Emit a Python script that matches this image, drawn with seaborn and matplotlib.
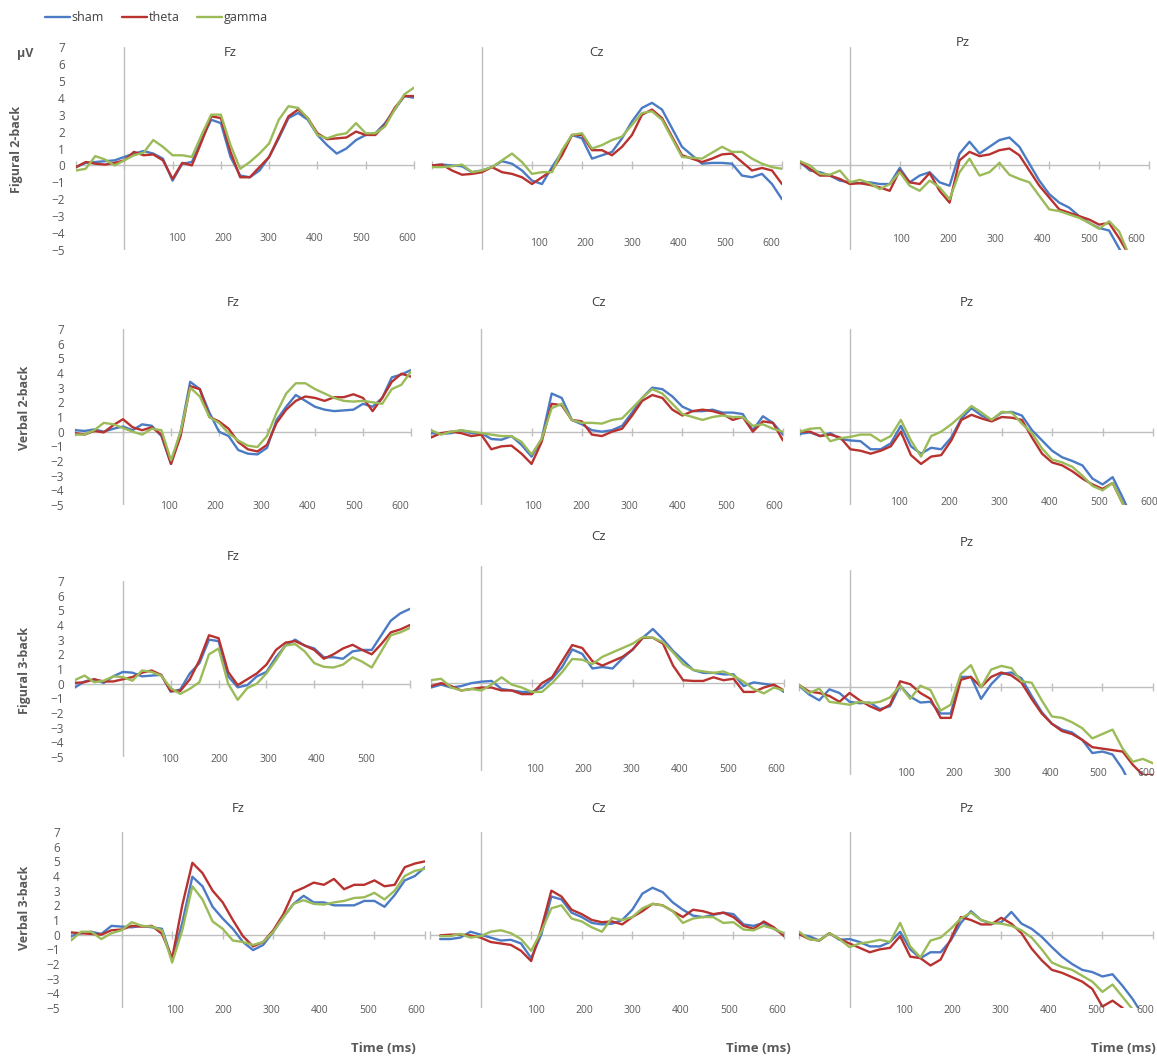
import numpy as np
import pandas as pd
import matplotlib
matplotlib.use("Agg")
import matplotlib.pyplot as plt
import seaborn as sns

nan = np.nan

# time axis, ms (one sample every 20 ms)
time_ms = np.arange(-100, 601, 20)
conditions = ["sham", "theta", "gamma"]
tasks = ["Figural 2-back", "Verbal 2-back", "Figural 3-back", "Verbal 3-back"]
sites = ["Fz", "Cz", "Pz"]
tick_ms = [-100, 0, 100, 200, 300, 400, 500, 600]
tick_labels = ["100", "200", "300", "400", "500", "600"]

# ---- Figural 2-back ----
f2_fz_sham = [-0.1, 0.15, 0.2, 0.25, 0.3, 0.5, 0.7, 0.85, 0.7, 0.4, -0.9, 0.1, 0.2, 1.5, 2.7, 2.5, 0.5, -0.6, -0.7, -0.3, 0.5, 1.6, 2.8, 3.1, 2.7, 1.8, 1.2, 0.7, 1.0, 1.5, 1.8, 1.9, 2.5, 3.3, 4.1, 4.0]
f2_fz_theta = [-0.1, 0.2, 0.1, 0.05, 0.15, 0.3, 0.8, 0.6, 0.65, 0.3, -0.8, 0.15, 0.0, 1.4, 2.9, 2.8, 0.8, -0.7, -0.7, -0.1, 0.5, 1.7, 2.9, 3.3, 2.8, 1.9, 1.55, 1.6, 1.65, 2.0, 1.8, 1.8, 2.4, 3.4, 4.1, 4.1]
f2_fz_gamma = [-0.3, -0.2, 0.55, 0.35, 0.0, 0.3, 0.6, 0.75, 1.5, 1.1, 0.6, 0.6, 0.5, 1.8, 3.0, 3.0, 1.2, -0.2, 0.2, 0.7, 1.3, 2.7, 3.5, 3.4, 2.8, 1.8, 1.6, 1.8, 1.9, 2.5, 1.9, 1.9, 2.3, 3.3, 4.2, 4.6]

f2_cz_sham = [0.0, 0.05, 0.0, -0.05, -0.4, -0.3, -0.1, 0.25, 0.1, -0.3, -0.9, -1.1, -0.1, 0.8, 1.8, 1.6, 0.4, 0.6, 0.8, 1.6, 2.6, 3.4, 3.7, 3.3, 2.2, 1.1, 0.6, 0.1, 0.15, 0.15, 0.1, -0.6, -0.7, -0.5, -1.1, -2.0]
f2_cz_theta = [0.0, 0.05, -0.3, -0.55, -0.5, -0.4, -0.1, -0.4, -0.5, -0.7, -1.1, -0.7, -0.3, 0.6, 1.8, 1.8, 0.9, 0.9, 0.6, 1.1, 1.8, 3.0, 3.3, 2.8, 1.7, 0.6, 0.4, 0.2, 0.4, 0.65, 0.7, 0.2, -0.3, -0.15, -0.3, -1.1]
f2_cz_gamma = [-0.1, -0.1, -0.05, 0.05, -0.4, -0.3, -0.1, 0.3, 0.7, 0.2, -0.5, -0.4, -0.4, 0.9, 1.8, 1.9, 1.0, 1.2, 1.5, 1.7, 2.4, 3.1, 3.2, 2.7, 1.6, 0.5, 0.45, 0.4, 0.75, 1.1, 0.8, 0.8, 0.4, 0.1, -0.1, -0.2]

f2_pz_sham = [0.2, -0.3, -0.4, -0.6, -0.9, -1.0, -1.05, -1.0, -1.1, -1.1, -0.15, -1.0, -0.6, -0.4, -1.0, -1.2, 0.7, 1.4, 0.7, 1.1, 1.5, 1.65, 1.1, 0.1, -0.9, -1.7, -2.2, -2.5, -3.0, -3.4, -3.7, -3.85, -4.9, -6.0, nan, nan]
f2_pz_theta = [0.2, -0.2, -0.6, -0.6, -0.8, -1.1, -1.05, -1.15, -1.3, -1.5, -0.3, -1.0, -1.1, -0.45, -1.5, -2.2, 0.3, 0.8, 0.55, 0.65, 0.9, 1.0, 0.6, -0.3, -1.2, -1.9, -2.6, -2.8, -3.0, -3.2, -3.5, -3.4, -4.3, -5.3, nan, nan]
f2_pz_gamma = [0.25, 0.0, -0.5, -0.55, -0.3, -1.0, -0.85, -1.05, -1.4, -1.1, -0.4, -1.2, -1.5, -0.9, -1.3, -2.0, -0.4, 0.4, -0.6, -0.4, 0.15, -0.55, -0.8, -1.0, -1.8, -2.6, -2.7, -2.9, -3.1, -3.4, -3.75, -3.3, -3.9, -5.3, nan, nan]

# ---- Verbal 2-back ----
v2_fz_sham = [0.1, 0.05, 0.15, 0.0, 0.2, 0.35, 0.1, 0.5, 0.4, -0.3, -2.2, 0.0, 3.4, 2.9, 1.3, 0.0, -0.3, -1.25, -1.5, -1.55, -1.1, 0.8, 1.7, 2.5, 2.1, 1.7, 1.5, 1.4, 1.45, 1.5, 1.9, 1.7, 2.3, 3.7, 3.9, 4.2]
v2_fz_theta = [-0.1, -0.2, 0.05, -0.05, 0.45, 0.85, 0.3, 0.1, 0.3, -0.2, -2.2, -0.3, 3.1, 2.9, 1.0, 0.7, 0.2, -0.7, -1.2, -1.35, -0.9, 0.6, 1.5, 2.1, 2.4, 2.3, 2.1, 2.35, 2.35, 2.55, 2.3, 1.4, 2.3, 3.4, 3.95, 3.75]
v2_fz_gamma = [-0.2, -0.2, 0.1, 0.6, 0.5, 0.25, 0.0, -0.2, 0.2, 0.1, -1.95, 0.0, 3.0, 2.4, 1.0, 0.6, -0.1, -0.6, -0.95, -1.05, -0.3, 1.3, 2.6, 3.3, 3.3, 2.9, 2.6, 2.3, 2.1, 2.05, 2.1, 2.0, 1.9, 2.9, 3.2, 4.1]

v2_cz_sham = [-0.1, -0.15, -0.1, 0.1, -0.1, -0.1, -0.5, -0.55, -0.3, -0.9, -1.7, -0.5, 2.6, 2.3, 0.8, 0.5, 0.1, 0.0, 0.1, 0.4, 1.3, 2.3, 3.0, 2.9, 2.4, 1.7, 1.4, 1.4, 1.5, 1.3, 1.3, 1.2, 0.1, 1.05, 0.6, -0.2]
v2_cz_theta = [-0.4, -0.1, 0.0, -0.1, -0.3, -0.2, -1.2, -1.0, -0.95, -1.5, -2.2, -0.7, 1.9, 1.8, 0.8, 0.7, -0.2, -0.3, 0.0, 0.2, 1.1, 2.1, 2.5, 2.3, 1.5, 1.1, 1.4, 1.5, 1.4, 1.2, 0.8, 1.0, 0.0, 0.7, 0.6, -0.6]
v2_cz_gamma = [0.1, -0.2, 0.0, 0.1, 0.0, -0.1, -0.2, -0.3, -0.3, -0.7, -1.55, -0.5, 1.6, 1.9, 0.8, 0.6, 0.6, 0.55, 0.8, 0.9, 1.6, 2.3, 2.9, 2.6, 1.9, 1.2, 1.0, 0.8, 1.0, 1.1, 1.0, 1.0, 0.4, 0.5, 0.2, 0.0]

v2_pz_sham = [-0.15, -0.05, -0.3, -0.1, -0.5, -0.6, -0.65, -1.2, -1.2, -0.8, 0.4, -1.0, -1.5, -1.1, -1.2, -0.4, 0.9, 1.6, 1.1, 0.8, 1.3, 1.35, 1.1, 0.1, -0.6, -1.3, -1.75, -2.0, -2.3, -3.2, -3.6, -3.1, -4.5, -6.0, nan, nan]
v2_pz_theta = [0.0, 0.0, -0.3, -0.2, -0.4, -1.2, -1.3, -1.5, -1.3, -1.0, 0.0, -1.6, -2.2, -1.7, -1.6, -0.6, 0.8, 1.15, 0.9, 0.7, 1.0, 0.95, 0.8, -0.4, -1.5, -2.1, -2.3, -2.7, -3.2, -3.6, -3.9, -3.5, -4.9, -6.0, nan, nan]
v2_pz_gamma = [0.0, 0.2, 0.25, -0.65, -0.45, -0.35, -0.2, -0.2, -0.65, -0.3, 0.8, -0.6, -1.7, -0.3, 0.0, 0.5, 1.1, 1.75, 1.3, 0.8, 1.35, 1.3, 0.55, -0.1, -1.15, -1.9, -2.1, -2.4, -3.0, -3.7, -4.0, -3.5, -4.9, -6.0, nan, nan]

# ---- Figural 3-back ----
f3_fz_sham = [-0.25, 0.15, 0.3, 0.05, 0.5, 0.8, 0.75, 0.5, 0.55, 0.6, -0.55, -0.4, 0.7, 1.4, 3.0, 2.9, 0.5, -0.25, -0.1, 0.5, 0.8, 1.8, 2.6, 3.0, 2.6, 2.4, 1.8, 1.8, 1.7, 2.2, 2.3, 2.3, 3.3, 4.3, 4.8, 5.1]
f3_fz_theta = [0.05, 0.1, 0.3, 0.15, 0.15, 0.3, 0.45, 0.75, 0.9, 0.6, -0.5, -0.5, 0.3, 1.6, 3.3, 3.1, 0.8, -0.1, 0.3, 0.7, 1.3, 2.3, 2.8, 2.9, 2.6, 2.3, 1.7, 2.0, 2.4, 2.65, 2.3, 2.0, 2.7, 3.5, 3.7, 4.0]
f3_fz_gamma = [0.25, 0.55, 0.1, 0.2, 0.5, 0.45, 0.2, 0.9, 0.8, 0.55, -0.3, -0.7, -0.35, 0.1, 2.0, 2.4, 0.0, -1.1, -0.3, 0.0, 0.7, 1.6, 2.6, 2.7, 2.2, 1.4, 1.15, 1.1, 1.3, 1.8, 1.5, 1.1, 2.2, 3.3, 3.5, 3.8]

f3_cz_sham = [-0.3, -0.1, -0.3, -0.2, 0.0, 0.1, 0.15, -0.4, -0.5, -0.6, -0.6, -0.3, 0.3, 1.1, 2.3, 2.0, 1.0, 1.1, 1.0, 1.7, 2.3, 3.1, 3.7, 3.0, 2.2, 1.55, 0.9, 0.7, 0.7, 0.6, 0.6, -0.2, 0.05, -0.05, -0.15, -0.6]
f3_cz_theta = [-0.2, 0.0, -0.2, -0.5, -0.4, -0.3, -0.3, -0.5, -0.5, -0.75, -0.75, 0.0, 0.4, 1.5, 2.6, 2.4, 1.5, 1.2, 1.5, 1.8, 2.3, 3.1, 3.1, 2.7, 1.2, 0.2, 0.15, 0.15, 0.4, 0.2, 0.3, -0.6, -0.6, -0.3, -0.1, -0.5]
f3_cz_gamma = [0.2, 0.3, -0.3, -0.5, -0.4, -0.5, -0.1, 0.4, -0.1, -0.3, -0.6, -0.6, 0.0, 0.75, 1.65, 1.6, 1.3, 1.8, 2.1, 2.4, 2.7, 3.15, 3.1, 2.8, 2.1, 1.3, 0.9, 0.8, 0.7, 0.8, 0.5, 0.1, -0.4, -0.7, -0.3, -0.5]

f3_pz_sham = [0.1, -0.5, -0.9, -0.15, -0.4, -1.0, -1.1, -1.05, -1.5, -1.3, 0.1, -0.65, -1.05, -1.0, -1.8, -1.8, 0.7, 0.7, -0.8, 0.2, 0.9, 1.0, 0.6, -0.6, -1.7, -2.5, -2.9, -3.1, -3.6, -4.5, -4.4, -4.6, -5.6, -7.0, nan, nan]
f3_pz_theta = [0.15, -0.3, -0.4, -0.6, -1.0, -0.4, -0.9, -1.3, -1.6, -1.2, 0.4, 0.2, -0.4, -0.8, -2.1, -2.1, 0.5, 0.7, 0.0, 0.7, 1.0, 0.8, 0.3, -0.8, -1.8, -2.5, -3.0, -3.2, -3.6, -4.1, -4.2, -4.3, -4.4, -5.3, -6.0, -6.0]
f3_pz_gamma = [0.15, -0.4, -0.1, -1.0, -1.1, -1.2, -1.0, -1.1, -1.0, -0.7, 0.1, -0.8, 0.1, -0.2, -1.6, -1.2, 0.9, 1.5, 0.0, 1.2, 1.45, 1.3, 0.4, 0.3, -0.9, -2.0, -2.1, -2.4, -2.8, -3.5, -3.2, -2.9, -4.2, -5.1, -4.9, -5.2]

# ---- Verbal 3-back ----
v3_fz_sham = [-0.1, 0.1, 0.2, 0.05, 0.6, 0.55, 0.5, 0.6, 0.5, 0.4, -1.7, 0.8, 3.95, 3.3, 1.9, 1.1, 0.4, -0.5, -1.05, -0.7, 0.2, 1.2, 2.1, 2.65, 2.2, 2.2, 2.0, 2.0, 2.0, 2.3, 2.3, 1.9, 2.7, 3.7, 4.0, 4.6]
v3_fz_theta = [0.15, 0.1, 0.05, 0.0, 0.3, 0.35, 0.6, 0.55, 0.6, 0.05, -1.6, 2.0, 4.9, 4.2, 3.0, 2.2, 1.0, -0.1, -0.8, -0.5, 0.3, 1.4, 2.9, 3.2, 3.55, 3.4, 3.8, 3.1, 3.4, 3.4, 3.7, 3.3, 3.4, 4.6, 4.85, 5.0]
v3_fz_gamma = [-0.4, 0.2, 0.2, -0.3, 0.1, 0.3, 0.85, 0.6, 0.55, 0.3, -1.9, 0.3, 3.3, 2.4, 0.9, 0.4, -0.4, -0.5, -0.7, -0.5, 0.2, 1.2, 2.1, 2.35, 2.1, 2.05, 2.2, 2.3, 2.5, 2.55, 2.85, 2.4, 3.0, 4.0, 4.35, 4.5]

v3_cz_sham = [nan, -0.3, -0.3, -0.2, 0.2, 0.0, -0.2, -0.4, -0.35, -0.6, -1.6, 0.0, 2.6, 2.4, 1.5, 1.2, 0.8, 0.7, 0.75, 1.0, 1.7, 2.8, 3.2, 2.9, 2.2, 1.7, 1.3, 1.2, 1.35, 1.5, 1.4, 0.7, 0.6, 0.8, 0.4, 0.0]
v3_cz_theta = [nan, -0.05, 0.0, 0.0, -0.05, -0.2, -0.5, -0.6, -0.7, -1.1, -1.8, 0.4, 3.0, 2.6, 1.7, 1.4, 1.0, 0.85, 0.9, 0.7, 1.2, 1.6, 2.1, 2.0, 1.6, 1.2, 1.7, 1.6, 1.4, 1.5, 1.2, 0.6, 0.4, 0.9, 0.5, -0.1]
v3_cz_gamma = [nan, -0.1, -0.1, 0.05, -0.2, -0.1, 0.2, 0.3, 0.1, -0.3, -1.1, 0.2, 1.8, 2.0, 1.1, 0.9, 0.5, 0.2, 1.15, 1.0, 1.2, 1.8, 2.1, 2.0, 1.6, 0.8, 1.1, 1.2, 1.2, 0.8, 0.85, 0.35, 0.3, 0.6, 0.4, 0.1]

v3_pz_sham = [0.0, -0.1, -0.4, 0.1, -0.35, -0.3, -0.5, -0.8, -0.8, -0.5, 0.2, -1.0, -1.6, -1.2, -1.2, -0.4, 0.8, 1.6, 1.0, 0.75, 0.85, 1.55, 0.75, 0.4, -0.15, -0.85, -1.5, -2.0, -2.4, -2.55, -2.85, -2.7, -3.5, -4.4, -5.5, nan]
v3_pz_theta = [0.05, -0.3, -0.4, 0.1, -0.3, -0.6, -0.9, -1.2, -1.0, -0.9, -0.1, -1.5, -1.6, -2.1, -1.7, -0.3, 1.2, 1.0, 0.7, 0.7, 1.15, 0.75, 0.1, -0.95, -1.75, -2.4, -2.6, -2.9, -3.2, -3.7, -4.9, -4.5, -5.0, nan, nan, nan]
v3_pz_gamma = [0.2, -0.3, -0.4, 0.1, -0.3, -0.85, -0.6, -0.5, -0.35, -0.5, 0.8, -0.8, -1.55, -0.4, -0.2, 0.4, 1.1, 1.5, 1.0, 0.8, 0.75, 0.6, 0.3, -0.2, -1.0, -1.9, -2.2, -2.4, -2.8, -3.2, -3.9, -3.4, -4.25, -5.1, nan, nan]

panels = [
    [(f2_fz_sham, f2_fz_theta, f2_fz_gamma), (f2_cz_sham, f2_cz_theta, f2_cz_gamma), (f2_pz_sham, f2_pz_theta, f2_pz_gamma)],
    [(v2_fz_sham, v2_fz_theta, v2_fz_gamma), (v2_cz_sham, v2_cz_theta, v2_cz_gamma), (v2_pz_sham, v2_pz_theta, v2_pz_gamma)],
    [(f3_fz_sham, f3_fz_theta, f3_fz_gamma), (f3_cz_sham, f3_cz_theta, f3_cz_gamma), (f3_pz_sham, f3_pz_theta, f3_pz_gamma)],
    [(v3_fz_sham, v3_fz_theta, v3_fz_gamma), (v3_cz_sham, v3_cz_theta, v3_cz_gamma), (v3_pz_sham, v3_pz_theta, v3_pz_gamma)],
]

# ---- layout (pixels in a 1157 x 1058 canvas) ----
W, H = 1157, 1058
# left, right, top, bottom, ymin, ymax
boxes = [
    [(76, 414, 47, 250, -5, 7), (432, 782, 47, 250, -5, 7), (800, 1149, 47, 250, -5, 7)],
    [(75, 411, 329, 505, -5, 7), (431, 783, 329, 505, -5, 7), (800, 1153, 329, 505, -5, 7)],
    [(75, 410, 581, 757, -5, 7), (431, 784, 566, 771, -6, 8), (799, 1153, 570, 775, -6, 8)],
    [(71, 425, 832, 1008, -5, 7), (430, 784, 832, 1008, -5, 7), (799, 1153, 832, 1008, -5, 7)],
]
# first / last tick-label centre (ms) and label height (uV)
label_span = [
    [(109, 585, -4.3), (114, 579, -4.6), (102, 575, -4.4)],
    [(95, 578, -5.1), (103, 583, -5.1), (96, 593, -4.8)],
    [(99, 610, -5.2), (106, 585, -5.9), (112, 587, -5.9)],
    [(106, 583, -5.2), (110, 587, -5.2), (107, 584, -5.2)],
]
title_pos = [
    [(230, 53), (597, 52), (963, 42)],
    [(233, 303), (598, 303), (967, 303)],
    [(233, 556), (598, 537), (967, 542)],
    [(238, 808), (598, 808), (967, 808)],
]
row_label_pos = [(17, 149), (25, 408), (25, 670), (25, 908)]

palette = {"sham": "#4a7bc4", "theta": "#b8322f", "gamma": "#9bbb59"}
axis_grey = "#bfbfbf"
text_grey = "#595959"

sns.set_style("white")
plt.rcParams["font.family"] = ["Open Sans", "DejaVu Sans"]


def fx(px):
    return px / W


def fy(py):
    return 1 - py / H


fig = plt.figure(figsize=(W / 100, H / 100), dpi=100)
handles, labels = None, None

for r in range(4):
    for c in range(3):
        l, rr, t, b, ymin, ymax = boxes[r][c]
        ax = fig.add_axes([fx(l), fy(b), (rr - l) / W, (b - t) / H])
        series = panels[r][c]
        df = pd.DataFrame({
            "time": np.tile(time_ms, 3),
            "uV": np.concatenate([np.asarray(s, dtype=float) for s in series]),
            "condition": np.repeat(conditions, len(time_ms)),
        })
        ax.axhline(0, color=axis_grey, lw=1.0, zorder=1)
        ax.axvline(0, color=axis_grey, lw=1.0, zorder=1)
        ax.plot(tick_ms, np.zeros(len(tick_ms)), ls="none", marker="|", ms=6,
                mew=1.0, color=axis_grey, zorder=1, clip_on=False)
        sns.lineplot(data=df, x="time", y="uV", hue="condition", hue_order=conditions,
                     palette=palette, estimator=None, sort=False, lw=1.7, ax=ax,
                     legend=(r == 0 and c == 0), zorder=3)
        if r == 0 and c == 0:
            handles, labels = ax.get_legend_handles_labels()
            ax.get_legend().remove()
        ax.set_xlim(-100, 600)
        ax.set_ylim(ymin, ymax)
        ax.set_xticks([])
        ax.set_xlabel("")
        ax.set_ylabel("")
        for sp in ax.spines.values():
            sp.set_visible(False)
        if c == 0:
            ax.set_yticks(np.arange(-5, 8))
            ax.tick_params(axis="y", length=0, pad=8, labelsize=8.5, labelcolor=text_grey)
        else:
            ax.set_yticks([])
        a, z, ly = label_span[r][c]
        n_lab = 5 if (r == 2 and c == 0) else 6
        for k in range(n_lab):
            ax.text(a + k * (z - a) / 5, ly, tick_labels[k], ha="center", va="center",
                    fontsize=7.5, color=text_grey)
        tx, ty = title_pos[r][c]
        fig.text(fx(tx), fy(ty), sites[c], ha="center", va="center", fontsize=9.5, color="#404040")

for r, task in enumerate(tasks):
    x, y = row_label_pos[r]
    fig.text(fx(x), fy(y), task, rotation=90, ha="center", va="center",
             fontsize=9, fontweight="bold", color=text_grey)

fig.text(fx(25), fy(53), "μV", ha="center", va="center", fontsize=9, fontweight="bold", color=text_grey)
for x in (383, 758, 1123):
    fig.text(fx(x), fy(1048), "Time (ms)", ha="center", va="center",
             fontsize=9.5, fontweight="bold", color=text_grey)

fig.legend(handles, labels, loc="upper left", bbox_to_anchor=(fx(45), fy(11)), ncol=3,
           frameon=False, fontsize=9, handlelength=2.0, handletextpad=0.15,
           columnspacing=1.4, borderpad=0, borderaxespad=0, labelcolor="#404040")

fig.savefig("out.png", dpi=100)
